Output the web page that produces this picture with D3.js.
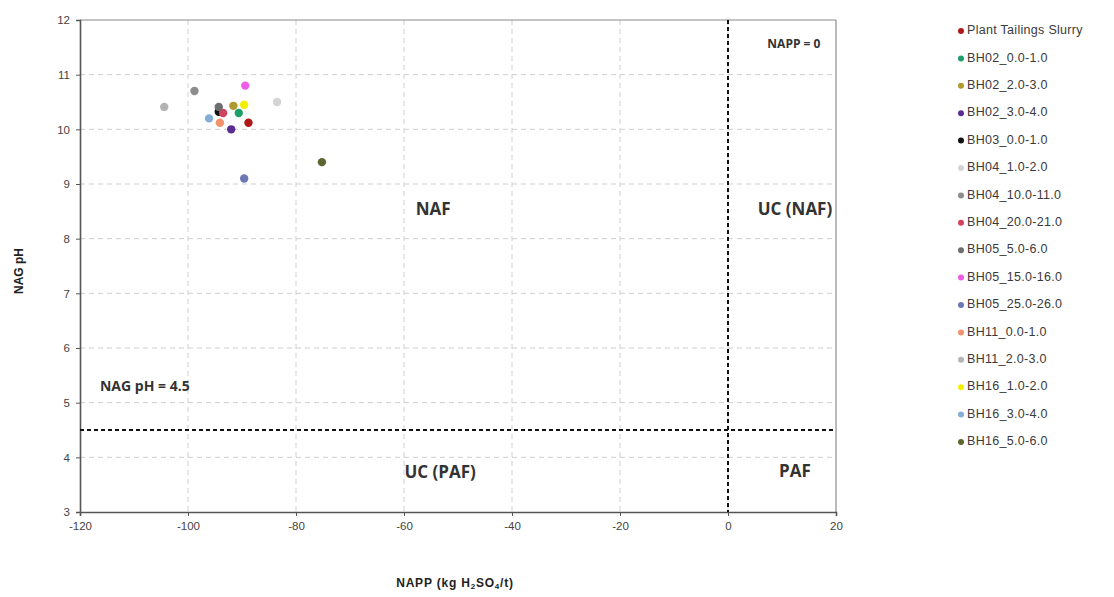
<!DOCTYPE html>
<html>
<head>
<meta charset="utf-8">
<script src="https://cdn.jsdelivr.net/npm/d3@7"></script>
<style>
  body { margin: 0; background: #fff; }
  svg { display: block; }
</style>
</head>
<body>
<svg id="chart" width="1114" height="597"></svg>
<script>
// Sample names, colours and NAPP / NAG pH results
const seriesNames = [
  "Plant Tailings Slurry", "BH02_0.0-1.0", "BH02_2.0-3.0", "BH02_3.0-4.0",
  "BH03_0.0-1.0", "BH04_1.0-2.0", "BH04_10.0-11.0", "BH04_20.0-21.0",
  "BH05_5.0-6.0", "BH05_15.0-16.0", "BH05_25.0-26.0", "BH11_0.0-1.0",
  "BH11_2.0-3.0", "BH16_1.0-2.0", "BH16_3.0-4.0", "BH16_5.0-6.0"
];
const seriesColors = [
  "#b01818", "#1f9e6a", "#b09a30", "#5a2d94",
  "#111111", "#d4d4d4", "#8c8c8c", "#d2415e",
  "#6e6e6e", "#ee5ce6", "#6b78b4", "#f0926a",
  "#b4b4b4", "#f2f000", "#85aed6", "#5d6530"
];
const nappValues = [
  -88.8, -90.6, -91.6, -92.0,
  -94.3, -83.5, -98.8, -93.5,
  -94.3, -89.4, -89.6, -94.1,
  -104.4, -89.6, -96.1, -75.2
];
const nagPhValues = [
  10.12, 10.30, 10.43, 10.00,
  10.32, 10.50, 10.70, 10.30,
  10.41, 10.80, 9.10, 10.12,
  10.41, 10.45, 10.20, 9.40
];

const xTicks = [-120, -100, -80, -60, -40, -20, 0, 20];
const yTicks = [3, 4, 5, 6, 7, 8, 9, 10, 11, 12];

const nappZero = 0;
const nagThreshold = 4.5;

const svg = d3.select("#chart");
const plot = { left: 80, top: 20, right: 836, bottom: 512 };

const x = d3.scaleLinear().domain([-120, 20]).range([plot.left, plot.right]);
const y = d3.scaleLinear().domain([3, 12]).range([plot.bottom, plot.top]);

// grid
const grid = svg.append("g");
grid.selectAll("line.vg").data(xTicks.slice(1, -1)).enter().append("line")
  .attr("x1", d => x(d)).attr("x2", d => x(d))
  .attr("y1", plot.top).attr("y2", plot.bottom)
  .attr("stroke", "#cfcfcf").attr("stroke-width", 1).attr("stroke-dasharray", "5,4");
grid.selectAll("line.hg").data(yTicks.slice(1, -1)).enter().append("line")
  .attr("y1", d => y(d)).attr("y2", d => y(d))
  .attr("x1", plot.left).attr("x2", plot.right)
  .attr("stroke", "#cfcfcf").attr("stroke-width", 1).attr("stroke-dasharray", "5,4");

// outer frame (top & right)
svg.append("line").attr("x1", plot.left).attr("x2", plot.right)
  .attr("y1", plot.top).attr("y2", plot.top).attr("stroke", "#8a8a8a").attr("stroke-width", 1.2);
svg.append("line").attr("x1", plot.right).attr("x2", plot.right)
  .attr("y1", plot.top).attr("y2", plot.bottom).attr("stroke", "#8a8a8a").attr("stroke-width", 1.2);

// axes
const plainNum = d => String(d);
const xAxis = d3.axisBottom(x).tickValues(xTicks).tickFormat(plainNum).tickSize(4).tickPadding(6);
const yAxis = d3.axisLeft(y).tickValues(yTicks).tickFormat(plainNum).tickSize(4).tickPadding(6);

const gx = svg.append("g").attr("transform", `translate(0,${plot.bottom})`).call(xAxis);
const gy = svg.append("g").attr("transform", `translate(${plot.left},0)`).call(yAxis);
[gx, gy].forEach(g => {
  g.select(".domain").attr("stroke", "#555").attr("stroke-width", 1.6);
  g.selectAll(".tick line").attr("stroke", "#555");
  g.selectAll(".tick text").attr("fill", "#444")
    .style("font-family", "'Liberation Sans', Arial, sans-serif").style("font-size", "11.5px");
});

// threshold lines
svg.append("line").attr("x1", x(nappZero)).attr("x2", x(nappZero))
  .attr("y1", plot.top).attr("y2", plot.bottom)
  .attr("stroke", "#111").attr("stroke-width", 2).attr("stroke-dasharray", "4,3");
svg.append("line").attr("x1", plot.left).attr("x2", plot.right)
  .attr("y1", y(nagThreshold)).attr("y2", y(nagThreshold))
  .attr("stroke", "#111").attr("stroke-width", 2).attr("stroke-dasharray", "4,3");

// region labels
const labelFont = "'Open Sans', 'DejaVu Sans', sans-serif";
const regionLabels = [
  { t: "NAF", x: -54.6, y: 8.51 },
  { t: "UC (NAF)", x: 12.4, y: 8.51 },
  { t: "UC (PAF)", x: -53.3, y: 3.7 },
  { t: "PAF", x: 12.4, y: 3.73 }
];
svg.selectAll("text.region").data(regionLabels).enter().append("text")
  .attr("x", d => x(d.x)).attr("y", d => y(d.y))
  .attr("text-anchor", "middle").attr("dominant-baseline", "middle")
  .style("font-family", labelFont).style("font-weight", "bold")
  .style("font-size", "17px").attr("fill", "#333")
  .text(d => d.t);

svg.append("text").attr("x", x(12.2)).attr("y", y(11.55))
  .attr("text-anchor", "middle").attr("dominant-baseline", "middle")
  .style("font-family", labelFont).style("font-weight", "bold")
  .style("font-size", "12px").attr("fill", "#333").text("NAPP = 0");

svg.append("text").attr("x", x(-116.3)).attr("y", y(5.28))
  .attr("dominant-baseline", "middle")
  .style("font-family", labelFont).style("font-weight", "bold")
  .style("font-size", "14px").attr("fill", "#333").text("NAG pH = 4.5");

// data points
const points = seriesNames.map((n, i) => ({ name: n, color: seriesColors[i], napp: nappValues[i], ph: nagPhValues[i] }));
svg.append("g").selectAll("circle").data(points).enter().append("circle")
  .attr("cx", d => x(d.napp)).attr("cy", d => y(d.ph)).attr("r", 4.2)
  .attr("fill", d => d.color);

// axis titles
svg.append("text")
  .attr("transform", `translate(20,${(plot.top + plot.bottom) / 2 + 5}) rotate(-90)`)
  .attr("text-anchor", "middle").attr("dominant-baseline", "middle")
  .style("font-family", "'Liberation Sans', Arial, sans-serif").style("font-weight", "bold")
  .style("font-size", "12px").attr("fill", "#222").text("NAG pH");

const xt = svg.append("text").attr("x", 455).attr("y", 587).attr("text-anchor", "middle")
  .style("font-family", "'Liberation Sans', Arial, sans-serif").style("font-weight", "bold")
  .style("font-size", "12px").style("letter-spacing", "0.8px").attr("fill", "#222");
xt.append("tspan").text("NAPP (kg H");
xt.append("tspan").attr("baseline-shift", "-25%").style("font-size", "8px").text("2");
xt.append("tspan").text("SO");
xt.append("tspan").attr("baseline-shift", "-25%").style("font-size", "8px").text("4");
xt.append("tspan").text("/t)");

// legend
const legend = svg.append("g").attr("transform", "translate(961,31)");
const li = legend.selectAll("g").data(points).enter().append("g")
  .attr("transform", (d, i) => `translate(0,${i * 27.4})`);
li.append("circle").attr("r", 3).attr("fill", d => d.color);
li.append("text").attr("x", 6).attr("dominant-baseline", "middle")
  .style("font-family", "'Liberation Sans', Arial, sans-serif")
  .style("font-size", "12.5px").style("letter-spacing", "0.3px").attr("fill", "#3a3a3a")
  .text(d => d.name);
</script>
</body>
</html>
